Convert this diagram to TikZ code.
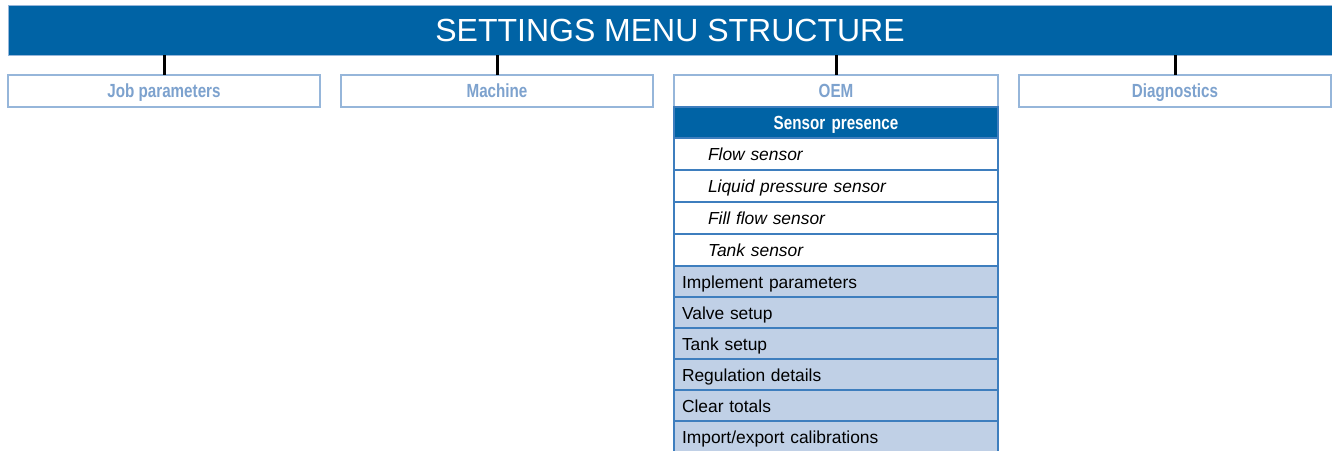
\documentclass[tikz,border=0pt]{standalone}
\usepackage{fontspec}
\setmainfont{Liberation Sans}
\newfontfamily\condfont[FakeStretch=0.8]{Liberation Sans Bold}
\definecolor{HeadBlue}{RGB}{0,99,165}
\definecolor{TabText}{RGB}{125,162,206}
\definecolor{TabLine}{RGB}{150,182,218}
\definecolor{RowBlue}{RGB}{192,208,230}
\definecolor{RowLine}{RGB}{62,126,190}
\usetikzlibrary{positioning}

\begin{document}
\begin{tikzpicture}[
  x=1pt,y=-1pt,
  bar/.style={draw=TabLine,fill=HeadBlue,text=white,minimum width=1324pt,minimum height=50pt,
    inner sep=0pt,font=\fontsize{32}{36}\selectfont},
  tab/.style={draw=TabLine,line width=1.2pt,fill=white,text=TabText,minimum height=32pt,
    inner sep=0pt,outer sep=0pt,text height=16pt,text depth=3pt,
    font=\condfont\fontsize{19}{22}\selectfont},
  conn/.style={line width=3pt,black},
  row/.style={draw=RowLine,line width=1.2pt,minimum height=31pt,text width=308pt,inner xsep=8pt,
    inner ysep=0pt,outer sep=0pt,align=left,text height=15pt,text depth=2pt,
    font=\fontsize{17.4}{20}\selectfont},
  head/.style={row,fill=HeadBlue,text=white,align=center,font=\condfont\fontsize{19}{22}\selectfont},
  sub/.style={row,fill=white,minimum height=32pt,text width=256pt,inner xsep=34pt,
    font=\itshape\fontsize{17.4}{20}\selectfont},
  item/.style={row,fill=RowBlue}
]
\useasboundingbox (0,0) rectangle (1332,450);
% Title bar
\node[bar] (title) at (670,30) {SETTINGS MENU STRUCTURE};
% Top level tabs
\node[tab,minimum width=312pt] (job) at (164,91) {Job parameters};
\node[tab,minimum width=312pt] (mach) at (497,91) {Machine};
\node[tab,minimum width=324pt] (oem) at (836,91) {OEM};
\node[tab,minimum width=312pt] (diag) at (1175,91) {Diagnostics};
\draw[conn] (title.south -| job.north) -- (job.north);
\draw[conn] (title.south -| mach.north) -- (mach.north);
\draw[conn] (title.south -| oem.north) -- (oem.north);
\draw[conn] (title.south -| diag.north) -- (diag.north);
% OEM sub menu
\node[head,below=0pt of oem] (sens) {Sensor presence};
\node[sub,below=0pt of sens] (flow) {Flow sensor};
\node[sub,below=0pt of flow] (press) {Liquid pressure sensor};
\node[sub,below=0pt of press] (fill) {Fill flow sensor};
\node[sub,below=0pt of fill] (tanks) {Tank sensor};
\node[item,below=0pt of tanks] (impl) {Implement parameters};
\node[item,below=0pt of impl] (valve) {Valve setup};
\node[item,below=0pt of valve] (tank) {Tank setup};
\node[item,below=0pt of tank] (reg) {Regulation details};
\node[item,below=0pt of reg] (clear) {Clear totals};
\node[item,below=0pt of clear] (calib) {Import/export calibrations};
\end{tikzpicture}
\end{document}
